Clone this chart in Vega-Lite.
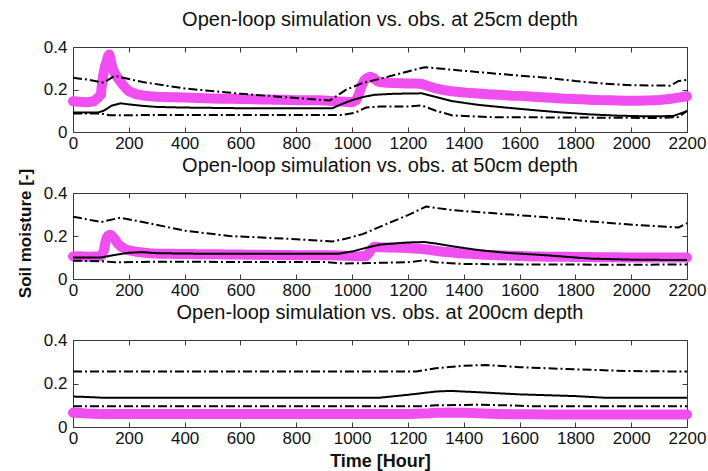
{
  "$schema": "https://vega.github.io/schema/vega-lite/v6.json",
  "background": "white",
  "padding": {"left": 15, "top": 9, "right": 5, "bottom": 5},
  "bounds": "flush",
  "spacing": 61,
  "config": {
    "view": {"stroke": "#3a3a3a", "strokeWidth": 1},
    "font": "Liberation Sans",
    "axis": {"grid": false, "domain": false, "tickColor": "#3a3a3a", "tickSize": -5, "labelFont": "Liberation Sans", "labelFontSize": 17, "labelColor": "#111", "titleFont": "Liberation Sans", "titleFontSize": 18, "titleFontWeight": "bold", "titleColor": "#111", "labelFlush": false},
    "title": {"font": "Liberation Sans", "fontSize": 20, "fontWeight": "normal", "color": "#111", "offset": 8}
  },
  "datasets": {
    "o1": [
      {"t":0,"v":0.145},{"t":25,"v":0.142},{"t":50,"v":0.14},{"t":75,"v":0.145},{"t":90,"v":0.162},{"t":100,"v":0.175},{"t":105,"v":0.24},{"t":110,"v":0.28},{"t":115,"v":0.31},{"t":120,"v":0.33},{"t":125,"v":0.355},{"t":130,"v":0.365},{"t":135,"v":0.34},{"t":140,"v":0.31},{"t":145,"v":0.29},{"t":150,"v":0.275},{"t":160,"v":0.255},{"t":175,"v":0.228},{"t":190,"v":0.205},{"t":200,"v":0.192},{"t":225,"v":0.178},{"t":250,"v":0.172},{"t":275,"v":0.168},{"t":300,"v":0.166},{"t":325,"v":0.165},{"t":350,"v":0.164},{"t":375,"v":0.163},{"t":400,"v":0.162},{"t":425,"v":0.161},{"t":450,"v":0.16},{"t":475,"v":0.159},{"t":500,"v":0.158},{"t":525,"v":0.157},{"t":550,"v":0.157},{"t":575,"v":0.156},{"t":600,"v":0.155},{"t":625,"v":0.155},{"t":650,"v":0.154},{"t":675,"v":0.153},{"t":700,"v":0.153},{"t":725,"v":0.152},{"t":750,"v":0.152},{"t":775,"v":0.151},{"t":800,"v":0.15},{"t":825,"v":0.15},{"t":850,"v":0.15},{"t":875,"v":0.149},{"t":900,"v":0.148},{"t":925,"v":0.146},{"t":950,"v":0.144},{"t":975,"v":0.142},{"t":1000,"v":0.14},{"t":1015,"v":0.15},{"t":1025,"v":0.18},{"t":1035,"v":0.22},{"t":1045,"v":0.245},{"t":1055,"v":0.255},{"t":1065,"v":0.26},{"t":1075,"v":0.255},{"t":1090,"v":0.24},{"t":1100,"v":0.235},{"t":1125,"v":0.232},{"t":1150,"v":0.23},{"t":1175,"v":0.229},{"t":1200,"v":0.228},{"t":1225,"v":0.228},{"t":1250,"v":0.226},{"t":1275,"v":0.215},{"t":1300,"v":0.205},{"t":1325,"v":0.198},{"t":1350,"v":0.193},{"t":1375,"v":0.189},{"t":1400,"v":0.186},{"t":1425,"v":0.183},{"t":1450,"v":0.181},{"t":1475,"v":0.179},{"t":1500,"v":0.177},{"t":1525,"v":0.175},{"t":1550,"v":0.173},{"t":1575,"v":0.171},{"t":1600,"v":0.17},{"t":1625,"v":0.168},{"t":1650,"v":0.166},{"t":1675,"v":0.164},{"t":1700,"v":0.162},{"t":1725,"v":0.16},{"t":1750,"v":0.158},{"t":1775,"v":0.157},{"t":1800,"v":0.155},{"t":1825,"v":0.154},{"t":1850,"v":0.152},{"t":1875,"v":0.151},{"t":1900,"v":0.15},{"t":1925,"v":0.149},{"t":1950,"v":0.148},{"t":1975,"v":0.147},{"t":2000,"v":0.147},{"t":2025,"v":0.147},{"t":2050,"v":0.148},{"t":2075,"v":0.149},{"t":2100,"v":0.151},{"t":2125,"v":0.154},{"t":2150,"v":0.158},{"t":2175,"v":0.163},{"t":2200,"v":0.168}
    ],
    "s1": [
      {"t":0,"v":0.092,"s":"mean"},{"t":90,"v":0.092,"s":"mean"},{"t":110,"v":0.1,"s":"mean"},{"t":140,"v":0.125,"s":"mean"},{"t":170,"v":0.135,"s":"mean"},{"t":200,"v":0.13,"s":"mean"},{"t":250,"v":0.123,"s":"mean"},{"t":300,"v":0.118,"s":"mean"},{"t":400,"v":0.115,"s":"mean"},{"t":600,"v":0.112,"s":"mean"},{"t":800,"v":0.112,"s":"mean"},{"t":930,"v":0.112,"s":"mean"},{"t":960,"v":0.13,"s":"mean"},{"t":1000,"v":0.15,"s":"mean"},{"t":1040,"v":0.165,"s":"mean"},{"t":1080,"v":0.175,"s":"mean"},{"t":1150,"v":0.18,"s":"mean"},{"t":1250,"v":0.182,"s":"mean"},{"t":1300,"v":0.165,"s":"mean"},{"t":1360,"v":0.145,"s":"mean"},{"t":1450,"v":0.128,"s":"mean"},{"t":1550,"v":0.115,"s":"mean"},{"t":1650,"v":0.103,"s":"mean"},{"t":1750,"v":0.092,"s":"mean"},{"t":1850,"v":0.083,"s":"mean"},{"t":1950,"v":0.077,"s":"mean"},{"t":2050,"v":0.074,"s":"mean"},{"t":2150,"v":0.075,"s":"mean"},{"t":2200,"v":0.098,"s":"mean"},
      {"t":0,"v":0.255,"s":"upper"},{"t":60,"v":0.245,"s":"upper"},{"t":110,"v":0.232,"s":"upper"},{"t":150,"v":0.265,"s":"upper"},{"t":180,"v":0.255,"s":"upper"},{"t":250,"v":0.235,"s":"upper"},{"t":400,"v":0.205,"s":"upper"},{"t":600,"v":0.18,"s":"upper"},{"t":800,"v":0.16,"s":"upper"},{"t":920,"v":0.148,"s":"upper"},{"t":980,"v":0.2,"s":"upper"},{"t":1040,"v":0.232,"s":"upper"},{"t":1100,"v":0.25,"s":"upper"},{"t":1200,"v":0.285,"s":"upper"},{"t":1260,"v":0.305,"s":"upper"},{"t":1300,"v":0.3,"s":"upper"},{"t":1400,"v":0.288,"s":"upper"},{"t":1538,"v":0.272,"s":"upper"},{"t":1700,"v":0.255,"s":"upper"},{"t":1800,"v":0.24,"s":"upper"},{"t":1900,"v":0.228,"s":"upper"},{"t":2000,"v":0.22,"s":"upper"},{"t":2140,"v":0.218,"s":"upper"},{"t":2170,"v":0.24,"s":"upper"},{"t":2200,"v":0.245,"s":"upper"},
      {"t":0,"v":0.087,"s":"lower"},{"t":100,"v":0.087,"s":"lower"},{"t":130,"v":0.079,"s":"lower"},{"t":400,"v":0.08,"s":"lower"},{"t":700,"v":0.08,"s":"lower"},{"t":960,"v":0.08,"s":"lower"},{"t":1010,"v":0.09,"s":"lower"},{"t":1050,"v":0.115,"s":"lower"},{"t":1100,"v":0.12,"s":"lower"},{"t":1200,"v":0.12,"s":"lower"},{"t":1250,"v":0.125,"s":"lower"},{"t":1300,"v":0.1,"s":"lower"},{"t":1360,"v":0.078,"s":"lower"},{"t":1500,"v":0.07,"s":"lower"},{"t":1800,"v":0.068,"s":"lower"},{"t":2100,"v":0.066,"s":"lower"},{"t":2170,"v":0.07,"s":"lower"},{"t":2200,"v":0.1,"s":"lower"}
    ],
    "o2": [
      {"t":0,"v":0.105},{"t":25,"v":0.106},{"t":50,"v":0.104},{"t":75,"v":0.105},{"t":100,"v":0.106},{"t":110,"v":0.13},{"t":115,"v":0.165},{"t":120,"v":0.19},{"t":125,"v":0.2},{"t":130,"v":0.205},{"t":135,"v":0.205},{"t":140,"v":0.2},{"t":150,"v":0.185},{"t":160,"v":0.165},{"t":175,"v":0.148},{"t":190,"v":0.138},{"t":200,"v":0.133},{"t":225,"v":0.127},{"t":250,"v":0.123},{"t":275,"v":0.12},{"t":300,"v":0.118},{"t":325,"v":0.117},{"t":350,"v":0.117},{"t":375,"v":0.116},{"t":400,"v":0.116},{"t":425,"v":0.116},{"t":450,"v":0.115},{"t":475,"v":0.115},{"t":500,"v":0.115},{"t":525,"v":0.115},{"t":550,"v":0.114},{"t":575,"v":0.114},{"t":600,"v":0.114},{"t":625,"v":0.113},{"t":650,"v":0.113},{"t":675,"v":0.113},{"t":700,"v":0.113},{"t":725,"v":0.112},{"t":750,"v":0.112},{"t":775,"v":0.112},{"t":800,"v":0.111},{"t":825,"v":0.111},{"t":850,"v":0.111},{"t":875,"v":0.11},{"t":900,"v":0.11},{"t":925,"v":0.11},{"t":950,"v":0.109},{"t":975,"v":0.108},{"t":1000,"v":0.107},{"t":1025,"v":0.106},{"t":1050,"v":0.106},{"t":1060,"v":0.12},{"t":1070,"v":0.14},{"t":1080,"v":0.15},{"t":1100,"v":0.148},{"t":1125,"v":0.147},{"t":1150,"v":0.146},{"t":1175,"v":0.145},{"t":1200,"v":0.144},{"t":1225,"v":0.142},{"t":1250,"v":0.14},{"t":1275,"v":0.136},{"t":1300,"v":0.131},{"t":1325,"v":0.127},{"t":1350,"v":0.124},{"t":1375,"v":0.121},{"t":1400,"v":0.119},{"t":1425,"v":0.117},{"t":1450,"v":0.115},{"t":1475,"v":0.113},{"t":1500,"v":0.112},{"t":1525,"v":0.11},{"t":1550,"v":0.109},{"t":1575,"v":0.108},{"t":1600,"v":0.107},{"t":1625,"v":0.106},{"t":1650,"v":0.105},{"t":1675,"v":0.105},{"t":1700,"v":0.104},{"t":1725,"v":0.104},{"t":1750,"v":0.103},{"t":1775,"v":0.103},{"t":1800,"v":0.102},{"t":1825,"v":0.102},{"t":1850,"v":0.102},{"t":1875,"v":0.101},{"t":1900,"v":0.101},{"t":1925,"v":0.101},{"t":1950,"v":0.101},{"t":1975,"v":0.1},{"t":2000,"v":0.1},{"t":2025,"v":0.1},{"t":2050,"v":0.1},{"t":2075,"v":0.1},{"t":2100,"v":0.1},{"t":2125,"v":0.1},{"t":2150,"v":0.1},{"t":2175,"v":0.1},{"t":2200,"v":0.1}
    ],
    "s2": [
      {"t":0,"v":0.1,"s":"mean"},{"t":100,"v":0.1,"s":"mean"},{"t":150,"v":0.112,"s":"mean"},{"t":200,"v":0.122,"s":"mean"},{"t":250,"v":0.125,"s":"mean"},{"t":300,"v":0.12,"s":"mean"},{"t":500,"v":0.117,"s":"mean"},{"t":950,"v":0.117,"s":"mean"},{"t":1000,"v":0.128,"s":"mean"},{"t":1050,"v":0.145,"s":"mean"},{"t":1100,"v":0.16,"s":"mean"},{"t":1200,"v":0.17,"s":"mean"},{"t":1260,"v":0.172,"s":"mean"},{"t":1300,"v":0.165,"s":"mean"},{"t":1360,"v":0.152,"s":"mean"},{"t":1450,"v":0.135,"s":"mean"},{"t":1550,"v":0.122,"s":"mean"},{"t":1700,"v":0.11,"s":"mean"},{"t":1850,"v":0.095,"s":"mean"},{"t":2000,"v":0.09,"s":"mean"},{"t":2200,"v":0.088,"s":"mean"},
      {"t":0,"v":0.29,"s":"upper"},{"t":100,"v":0.265,"s":"upper"},{"t":170,"v":0.285,"s":"upper"},{"t":250,"v":0.265,"s":"upper"},{"t":400,"v":0.225,"s":"upper"},{"t":560,"v":0.2,"s":"upper"},{"t":800,"v":0.185,"s":"upper"},{"t":930,"v":0.175,"s":"upper"},{"t":980,"v":0.188,"s":"upper"},{"t":1040,"v":0.21,"s":"upper"},{"t":1120,"v":0.254,"s":"upper"},{"t":1200,"v":0.297,"s":"upper"},{"t":1265,"v":0.337,"s":"upper"},{"t":1360,"v":0.32,"s":"upper"},{"t":1525,"v":0.304,"s":"upper"},{"t":1690,"v":0.288,"s":"upper"},{"t":1850,"v":0.268,"s":"upper"},{"t":2010,"v":0.252,"s":"upper"},{"t":2170,"v":0.24,"s":"upper"},{"t":2200,"v":0.26,"s":"upper"},
      {"t":0,"v":0.085,"s":"lower"},{"t":100,"v":0.083,"s":"lower"},{"t":150,"v":0.078,"s":"lower"},{"t":300,"v":0.08,"s":"lower"},{"t":900,"v":0.079,"s":"lower"},{"t":975,"v":0.072,"s":"lower"},{"t":1200,"v":0.078,"s":"lower"},{"t":1260,"v":0.087,"s":"lower"},{"t":1300,"v":0.078,"s":"lower"},{"t":1400,"v":0.07,"s":"lower"},{"t":1600,"v":0.068,"s":"lower"},{"t":2000,"v":0.066,"s":"lower"},{"t":2200,"v":0.068,"s":"lower"}
    ],
    "o3": [
      {"t":0,"v":0.066},{"t":25,"v":0.064},{"t":50,"v":0.062},{"t":75,"v":0.061},{"t":100,"v":0.06},{"t":200,"v":0.06},{"t":300,"v":0.06},{"t":400,"v":0.06},{"t":500,"v":0.06},{"t":600,"v":0.06},{"t":700,"v":0.06},{"t":800,"v":0.06},{"t":900,"v":0.06},{"t":1000,"v":0.06},{"t":1100,"v":0.06},{"t":1200,"v":0.06},{"t":1225,"v":0.061},{"t":1250,"v":0.062},{"t":1275,"v":0.063},{"t":1300,"v":0.065},{"t":1325,"v":0.066},{"t":1350,"v":0.067},{"t":1375,"v":0.066},{"t":1400,"v":0.065},{"t":1425,"v":0.064},{"t":1450,"v":0.063},{"t":1475,"v":0.062},{"t":1500,"v":0.061},{"t":1525,"v":0.06},{"t":1575,"v":0.059},{"t":1650,"v":0.059},{"t":1700,"v":0.058},{"t":1800,"v":0.058},{"t":1900,"v":0.058},{"t":2000,"v":0.058},{"t":2100,"v":0.058},{"t":2200,"v":0.058}
    ],
    "s3": [
      {"t":0,"v":0.14,"s":"mean"},{"t":50,"v":0.138,"s":"mean"},{"t":100,"v":0.135,"s":"mean"},{"t":1100,"v":0.135,"s":"mean"},{"t":1200,"v":0.148,"s":"mean"},{"t":1300,"v":0.163,"s":"mean"},{"t":1350,"v":0.166,"s":"mean"},{"t":1450,"v":0.16,"s":"mean"},{"t":1600,"v":0.15,"s":"mean"},{"t":1800,"v":0.142,"s":"mean"},{"t":1900,"v":0.135,"s":"mean"},{"t":2200,"v":0.134,"s":"mean"},
      {"t":0,"v":0.255,"s":"upper"},{"t":1230,"v":0.255,"s":"upper"},{"t":1300,"v":0.27,"s":"upper"},{"t":1400,"v":0.282,"s":"upper"},{"t":1480,"v":0.285,"s":"upper"},{"t":1600,"v":0.275,"s":"upper"},{"t":1800,"v":0.265,"s":"upper"},{"t":2000,"v":0.257,"s":"upper"},{"t":2200,"v":0.255,"s":"upper"},
      {"t":0,"v":0.095,"s":"lower"},{"t":1250,"v":0.095,"s":"lower"},{"t":1300,"v":0.1,"s":"lower"},{"t":1450,"v":0.102,"s":"lower"},{"t":1550,"v":0.1,"s":"lower"},{"t":1650,"v":0.095,"s":"lower"},{"t":2200,"v":0.095,"s":"lower"}
    ]
  },
  "vconcat": [
    {
      "title": "Open-loop simulation vs. obs. at 25cm depth",
      "width": 614, "height": 85,
      "layer": [
        {"data": {"name": "o1"}, "mark": {"type": "line", "strokeWidth": 10, "strokeCap": "round", "strokeJoin": "round", "color": "#f04ef0"},
         "encoding": {
           "x": {"field": "t", "type": "quantitative", "scale": {"domain": [0, 2200], "nice": false}, "axis": {"values": [0,200,400,600,800,1000,1200,1400,1600,1800,2000,2200], "format": "d", "title": null, "labelPadding": 8}},
           "y": {"field": "v", "type": "quantitative", "scale": {"domain": [0, 0.4], "nice": false}, "axis": {"values": [0, 0.2, 0.4], "format": "~g", "title": "Soil moisture [-]", "titleFontSize": 17, "titleY": 186, "titlePadding": 9, "labelPadding": 11}}}},
        {"data": {"name": "s1"}, "mark": {"type": "line", "color": "black", "strokeWidth": 2},
         "encoding": {
           "x": {"field": "t", "type": "quantitative", "scale": {"domain": [0, 2200], "nice": false}, "axis": {"orient": "top", "values": [0,200,400,600,800,1000,1200,1400,1600,1800,2000,2200], "labels": false, "title": null}},
           "y": {"field": "v", "type": "quantitative", "scale": {"domain": [0, 0.4], "nice": false}, "axis": {"orient": "right", "values": [0, 0.2, 0.4], "labels": false, "title": null}},
           "detail": {"field": "s"},
           "strokeDash": {"field": "s", "type": "nominal", "scale": {"domain": ["mean", "upper", "lower"], "range": [[1, 0], [9, 3, 2, 3], [9, 3, 2, 3]]}, "legend": null}}}
      ],
      "resolve": {"axis": {"x": "independent", "y": "independent"}}
    },
    {
      "title": "Open-loop simulation vs. obs. at 50cm depth",
      "width": 614, "height": 86,
      "layer": [
        {"data": {"name": "o2"}, "mark": {"type": "line", "strokeWidth": 10, "strokeCap": "round", "strokeJoin": "round", "color": "#f04ef0"},
         "encoding": {
           "x": {"field": "t", "type": "quantitative", "scale": {"domain": [0, 2200], "nice": false}, "axis": {"values": [0,200,400,600,800,1000,1200,1400,1600,1800,2000,2200], "format": "d", "title": null, "labelPadding": 8}},
           "y": {"field": "v", "type": "quantitative", "scale": {"domain": [0, 0.4], "nice": false}, "axis": {"values": [0, 0.2, 0.4], "format": "~g", "title": null, "labelPadding": 11}}}},
        {"data": {"name": "s2"}, "mark": {"type": "line", "color": "black", "strokeWidth": 2},
         "encoding": {
           "x": {"field": "t", "type": "quantitative", "scale": {"domain": [0, 2200], "nice": false}, "axis": {"orient": "top", "values": [0,200,400,600,800,1000,1200,1400,1600,1800,2000,2200], "labels": false, "title": null}},
           "y": {"field": "v", "type": "quantitative", "scale": {"domain": [0, 0.4], "nice": false}, "axis": {"orient": "right", "values": [0, 0.2, 0.4], "labels": false, "title": null}},
           "detail": {"field": "s"},
           "strokeDash": {"field": "s", "type": "nominal", "scale": {"domain": ["mean", "upper", "lower"], "range": [[1, 0], [9, 3, 2, 3], [9, 3, 2, 3]]}, "legend": null}}}
      ],
      "resolve": {"axis": {"x": "independent", "y": "independent"}}
    },
    {
      "title": "Open-loop simulation vs. obs. at 200cm depth",
      "width": 614, "height": 87,
      "layer": [
        {"data": {"name": "o3"}, "mark": {"type": "line", "strokeWidth": 10, "strokeCap": "round", "strokeJoin": "round", "color": "#f04ef0"},
         "encoding": {
           "x": {"field": "t", "type": "quantitative", "scale": {"domain": [0, 2200], "nice": false}, "axis": {"values": [0,200,400,600,800,1000,1200,1400,1600,1800,2000,2200], "format": "d", "title": "Time [Hour]", "labelPadding": 8, "titlePadding": 6}},
           "y": {"field": "v", "type": "quantitative", "scale": {"domain": [0, 0.4], "nice": false}, "axis": {"values": [0, 0.2, 0.4], "format": "~g", "title": null, "labelPadding": 11}}}},
        {"data": {"name": "s3"}, "mark": {"type": "line", "color": "black", "strokeWidth": 2},
         "encoding": {
           "x": {"field": "t", "type": "quantitative", "scale": {"domain": [0, 2200], "nice": false}, "axis": {"orient": "top", "values": [0,200,400,600,800,1000,1200,1400,1600,1800,2000,2200], "labels": false, "title": null}},
           "y": {"field": "v", "type": "quantitative", "scale": {"domain": [0, 0.4], "nice": false}, "axis": {"orient": "right", "values": [0, 0.2, 0.4], "labels": false, "title": null}},
           "detail": {"field": "s"},
           "strokeDash": {"field": "s", "type": "nominal", "scale": {"domain": ["mean", "upper", "lower"], "range": [[1, 0], [9, 3, 2, 3], [9, 3, 2, 3]]}, "legend": null}}}
      ],
      "resolve": {"axis": {"x": "independent", "y": "independent"}}
    }
  ]
}
